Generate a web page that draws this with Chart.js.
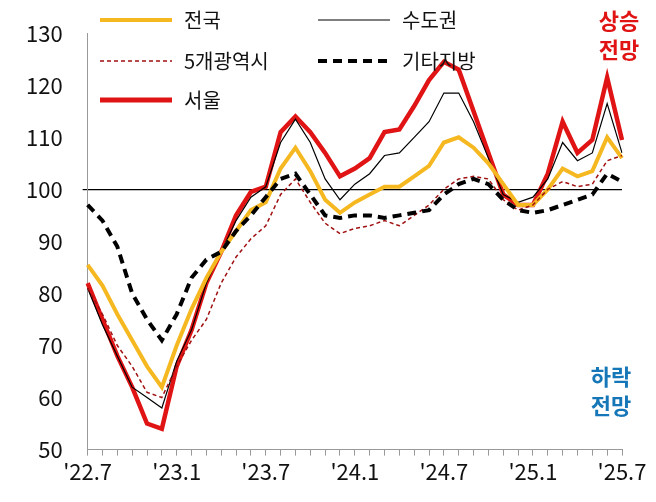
<!DOCTYPE html>
<html><head><meta charset="utf-8">
<script src="https://cdn.jsdelivr.net/npm/chart.js@4"></script>
<style>html,body{margin:0;background:#fff}#wrap{width:656px;height:502px}</style>
</head><body><div id="wrap"><canvas id="c"></canvas></div>
<script>
const labels = [];
for (let i = 0; i < 37; i += 1) {
  const m = 7 + i;
  const y = 22 + Math.floor((m - 1) / 12);
  labels.push(`'${y}.${((m - 1) % 12) + 1}`);
}
const seoul = [82, 75, 68, 62, 55, 54, 66, 73, 82, 88, 95, 99.5, 100.5, 111, 114, 111, 107, 102.5, 104, 106, 111, 111.5, 116, 121, 124.5, 123, 115, 107, 99, 97, 97, 103, 113, 107, 109.5, 121.5, 109.5];
const capital = [81, 74, 68, 62, 60, 58, 67, 73, 82, 88, 94, 98.5, 100.5, 109, 113.5, 109, 102, 98, 101, 103, 106.5, 107, 110, 113, 118.5, 118.5, 113, 106, 99, 97.5, 98.5, 102, 109, 105.5, 107, 116.5, 107];
const nation = [85.5, 81.5, 76, 71, 66, 62, 70, 77, 83, 88, 92, 96, 97.5, 104, 108, 103.5, 98, 95.5, 97.5, 99, 100.5, 100.5, 102.5, 104.5, 109, 110, 108, 105, 101, 97, 97, 100, 104, 102.5, 103.5, 110, 106];
const metro5 = [81, 76, 70, 66, 61, 60, 66, 71, 75, 82, 87, 90.5, 93, 99, 102, 97.5, 93.5, 91.5, 92.5, 93, 94, 93, 95, 97, 100, 102, 102.5, 102, 98, 96, 97, 100, 101.5, 100.5, 101, 105.5, 106.5];
const others = [97, 94, 89, 80, 75, 71, 76, 83, 86.5, 88, 92, 95, 98.5, 102, 103, 99, 95, 94.5, 95, 95, 94.5, 95, 95.5, 96, 99, 101, 102, 101, 98, 96, 95.5, 96, 97, 98, 99, 103, 101.5];
const yTicks = [50, 60, 70, 80, 90, 100, 110, 120, 130];

const FONT = "'Noto Sans CJK KR', 'Noto Sans', sans-serif";
const legendItems = [
  { text: "전국", x: 100, y: 20, color: "#f5b820", width: 4, dash: [] },
  { text: "수도권", x: 318, y: 20, color: "#000", width: 1.2, dash: [] },
  { text: "5개광역시", x: 100, y: 61, color: "#a01010", width: 1.5, dash: [4, 3] },
  { text: "기타지방", x: 318, y: 61, color: "#000", width: 4, dash: [9, 6] },
  { text: "서울", x: 100, y: 100, color: "#e01414", width: 5, dash: [] },
];

const overlay = {
  id: "overlay",
  afterDraw(chart) {
    const c = chart.ctx;
    c.save();
    c.font = `20px ${FONT}`;
    c.textBaseline = "middle";
    legendItems.forEach((it) => {
      c.strokeStyle = it.color;
      c.lineWidth = it.width;
      c.setLineDash(it.dash);
      c.beginPath();
      c.moveTo(it.x, it.y);
      c.lineTo(it.x + 72, it.y);
      c.stroke();
      c.fillStyle = "#111";
      c.fillText(it.text, it.x + 84, it.y);
    });
    c.setLineDash([]);
    c.font = `bold 22px ${FONT}`;
    c.textAlign = "center";
    c.fillStyle = "#e01414";
    c.fillText("상승", 619, 21);
    c.fillText("전망", 619, 50);
    c.fillStyle = "#1577b8";
    c.fillText("하락", 611, 377);
    c.fillText("전망", 611, 406);
    c.restore();
  },
};

const mk = (label, data, color, width, dash) => ({
  label, data, borderColor: color, borderWidth: width, borderDash: dash,
  pointRadius: 0, tension: 0, fill: false,
});

new Chart(document.getElementById("c"), {
  type: "line",
  data: {
    labels,
    datasets: [
      mk("서울", seoul, "#e01414", 4.5, []),
      mk("수도권", capital, "#000", 1.2, []),
      mk("전국", nation, "#f5b820", 4, []),
      mk("5개광역시", metro5, "#a01010", 1.5, [4, 3]),
      mk("기타지방", others, "#000", 4, [9, 6]),
    ].reverse(),
  },
  options: {
    responsive: true,
    maintainAspectRatio: false,
    animation: false,
    layout: { padding: { left: 6, right: 34, top: 33, bottom: 14 } },
    plugins: { legend: { display: false }, tooltip: { enabled: false } },
    scales: {
      x: {
        offset: false,
        grid: { display: true, drawOnChartArea: false, color: "#999", tickLength: 6 },
        border: { color: "#999" },
        ticks: {
          autoSkip: false, maxRotation: 0, color: "#111",
          font: { size: 22, family: FONT },
          callback: (v, i) => (i % 6 === 0 ? labels[i] : ""),
        },
      },
      y: {
        min: 50, max: 130,
        afterBuildTicks: (s) => { s.ticks = yTicks.map((v) => ({ value: v })); },
        grid: {
          drawTicks: true, tickLength: 5,
          color: (ctx) => (ctx.tick && ctx.tick.value === 100 ? "#000" : "rgba(0,0,0,0)"),
          lineWidth: 1.2,
        },
        border: { color: "#999" },
        ticks: { color: "#111", font: { size: 22, family: FONT }, padding: 20 },
      },
    },
  },
  plugins: [overlay],
});
</script></body></html>
